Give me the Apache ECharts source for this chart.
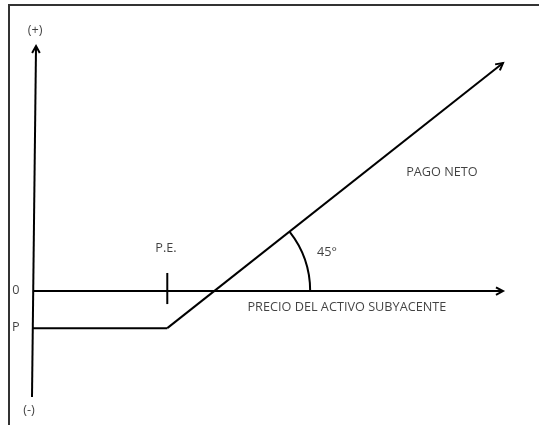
<!DOCTYPE html>
<html>
<head>
<meta charset="utf-8">
<script src="https://cdn.jsdelivr.net/npm/echarts@6/dist/echarts.min.js"></script>
<style>
    html, body { margin: 0; padding: 0; background: #fff; }
    #chart { width: 539px; height: 425px; }
</style>
</head>
<body>
<div id="chart"></div>
<script>
// hidden value axes, units chosen so that P = -1
const xRange = [0, 14];
const yRange = [-2.86, 6.62];

// the two drawn axes (arrows)
const verticalAxis = [[-0.03, -2.86], [0.09, 6.62]];
const horizontalAxis = [[0, 0], [14, 0]];

// pago neto: flat at P until the strike, then rising
const premium = -1;
const strike = 4;
const payoffEnd = [14, 6.16];

// small mark for P.E.
const peTick = [-0.35, 0.49];

// text notes
const noteText = ['(+)', '(-)', '0', 'P', 'P.E.', '45°', 'PRECIO DEL ACTIVO SUBYACENTE', 'PAGO NETO'];
const noteX = [0.06, -0.12, -0.51, -0.51, 3.96, 8.76, 9.35, 12.18];
const noteY = [7.05, -3.21, 0.03, -0.97, 1.16, 1.05, -0.43, 3.21];

const slope = (payoffEnd[1] - premium) / (payoffEnd[0] - strike);
const crossX = strike + (0 - premium) / slope;

// [x1, y1, x2, y2, arrow]
const segments = [
    [...verticalAxis[0], ...verticalAxis[1], 1],
    [...horizontalAxis[0], ...horizontalAxis[1], 1],
    [0, premium, strike, premium, 0],
    [strike, premium, payoffEnd[0], payoffEnd[1], 1],
    [strike, peTick[0], strike, peTick[1], 0]
];

const ink = '#000';

function renderSegment(params, api) {
    const a = api.coord([api.value(0), api.value(1)]);
    const b = api.coord([api.value(2), api.value(3)]);
    const children = [{
        type: 'line',
        shape: { x1: a[0], y1: a[1], x2: b[0], y2: b[1] },
        style: { stroke: ink, lineWidth: 2 }
    }];
    if (api.value(4)) {
        const ang = Math.atan2(b[1] - a[1], b[0] - a[0]);
        const len = 8, spread = 0.5;
        const p1 = [b[0] - len * Math.cos(ang - spread), b[1] - len * Math.sin(ang - spread)];
        const p2 = [b[0] - len * Math.cos(ang + spread), b[1] - len * Math.sin(ang + spread)];
        children.push({
            type: 'polyline',
            shape: { points: [p1, b, p2] },
            style: { stroke: ink, lineWidth: 2, fill: null }
        });
    }
    return { type: 'group', children };
}

function renderArc(params, api) {
    const c = api.coord([api.value(0), api.value(1)]);
    const k = api.coord([strike, premium]);
    const e = api.coord(payoffEnd);
    const ang = Math.atan2(e[1] - k[1], e[0] - k[0]);
    return {
        type: 'arc',
        shape: { cx: c[0], cy: c[1], r: 96, startAngle: ang, endAngle: 0, clockwise: true },
        style: { stroke: ink, lineWidth: 2, fill: null }
    };
}

const chart = echarts.init(document.getElementById('chart'));

chart.setOption({
    animation: false,
    grid: { left: 33, top: 46, width: 470, height: 351 },
    xAxis: { type: 'value', min: xRange[0], max: xRange[1], show: false },
    yAxis: { type: 'value', min: yRange[0], max: yRange[1], show: false },
    graphic: [{
        type: 'rect',
        shape: { x: 9, y: 5, width: 560, height: 460 },
        style: { stroke: '#333', lineWidth: 2, fill: null },
        silent: true
    }],
    series: [
        {
            type: 'custom',
            renderItem: renderSegment,
            encode: { x: [0, 2], y: [1, 3] },
            data: segments,
            clip: false,
            silent: true
        },
        {
            type: 'custom',
            renderItem: renderArc,
            encode: { x: 0, y: 1 },
            data: [[crossX, 0]],
            clip: false,
            silent: true
        },
        {
            type: 'scatter',
            symbolSize: 0,
            clip: false,
            silent: true,
            data: noteText.map((t, i) => ({ name: t, value: [noteX[i], noteY[i]] })),
            label: {
                show: true,
                position: 'inside',
                formatter: '{b}',
                color: '#111',
                fontSize: 12.7,
                fontFamily: 'Open Sans'
            }
        }
    ]
});
</script>
</body>
</html>
